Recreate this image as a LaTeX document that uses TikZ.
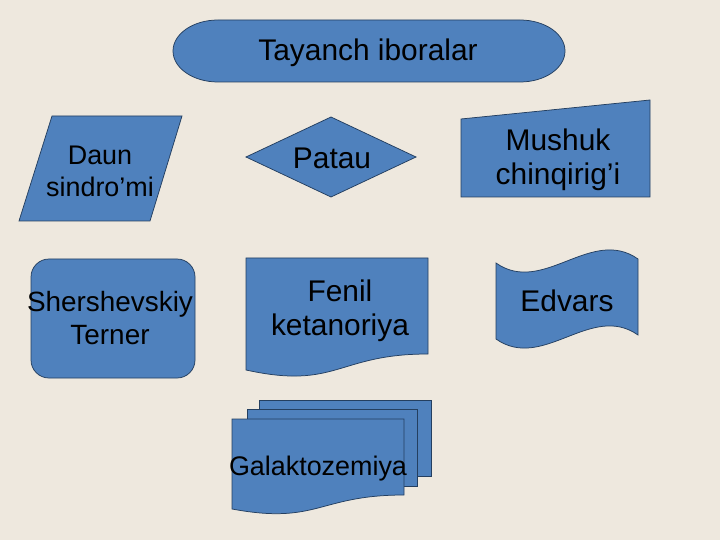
\documentclass[tikz,border=0pt]{standalone}
\usepackage{fontspec}
\setmainfont{Liberation Sans}
\definecolor{slidebg}{HTML}{EEE8DE}
\definecolor{boxblue}{HTML}{4F81BD}
\definecolor{boxline}{HTML}{243F60}

\begin{document}
\begin{tikzpicture}[x=1bp, y=-1bp,
        flowbox/.style={fill=boxblue, draw=boxline, line width=0.75pt},
        flowtext/.style={align=center, inner sep=0pt, text=black, font=\fontsize{28}{33.6}\selectfont},
        bigtext/.style={flowtext, font=\fontsize{30}{34}\selectfont},
        smalltext/.style={flowtext, font=\fontsize{27}{32}\selectfont}]
        \fill[slidebg] (0, 0) rectangle (720, 540);
        \useasboundingbox (0, 0) rectangle (720, 540);

        \draw[flowbox] (218, 20) -- (520, 20) arc[start angle=-90, end angle=90, x radius=45, y radius=31]
            -- (218, 82) arc[start angle=90, end angle=270, x radius=45, y radius=31] -- cycle;
        \node[bigtext] (tayanch) at (368, 53) {Tayanch iboralar};

        \draw[flowbox] (52, 116) -- (182, 116) -- (150, 221) -- (19, 221) -- cycle;
        \node[smalltext] (daun) at (100, 171) {Daun\\sindro’mi};

        \draw[flowbox] (246, 157) -- (331, 117) -- (416, 157) -- (331, 197) -- cycle;
        \node[bigtext] (patau) at (332, 158) {Patau};

        \draw[flowbox] (461, 119) -- (650, 100) -- (650, 197) -- (461, 197) -- cycle;
        \node[bigtext] (mushuk) at (558, 160) {Mushuk\\chinqirig’i};

        \draw[flowbox, rounded corners=18bp] (31, 259) rectangle (195, 378);
        \node[flowtext] (shershevskiy) at (110, 318) {Shershevskiy\\Terner};

        \draw[flowbox] (246, 258) -- (428, 258) -- (428, 354)
            .. controls (337, 354) and (337, 390) .. (246, 370) -- cycle;
        \node[bigtext] (fenil) at (340, 311) {Fenil\\ketanoriya};

        \draw[flowbox] (496, 263) .. controls (543, 296) and (591, 226) .. (638, 259) -- (638, 335)
            .. controls (591, 302) and (543, 372) .. (496, 339) -- cycle;
        \node[bigtext] (edvars) at (567, 301) {Edvars};

        \draw[flowbox] (259, 400) rectangle (431, 476);
        \draw[flowbox] (247, 409) rectangle (417, 486);
        \draw[flowbox] (232, 419) -- (404, 419) -- (404, 495)
            .. controls (318, 495) and (318, 525) .. (232, 509) -- cycle;
        \node[smalltext] (galaktozemiya) at (318, 469) {Galaktozemiya};
\end{tikzpicture}
\end{document}
